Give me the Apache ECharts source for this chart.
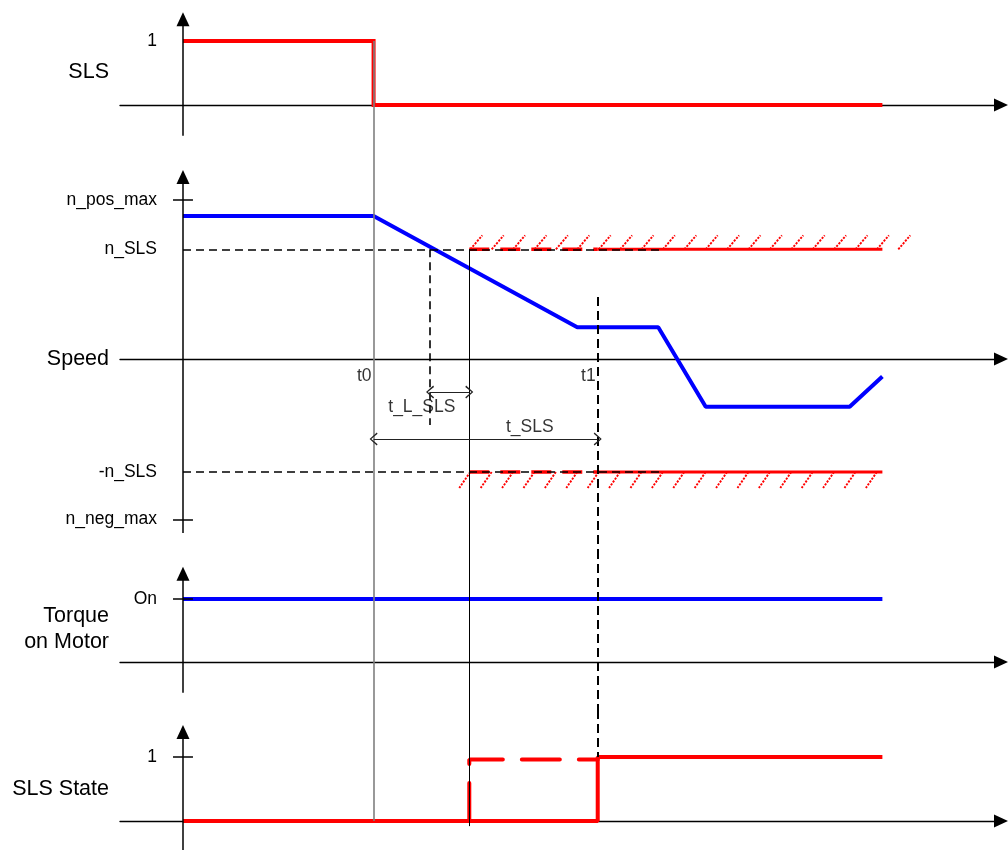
<!DOCTYPE html>
<html>
<head>
<meta charset="utf-8">
<script src="https://cdn.jsdelivr.net/npm/echarts@6/dist/echarts.min.js"></script>
<style>
html,body{margin:0;padding:0;background:#fff;}
#chart{width:1008px;height:850px;}
</style>
</head>
<body>
<div id="chart"></div>
<script>
// ---------------- data ----------------
// time axis (arbitrary units, y-axis at t = 0)
const T_MIN = -7.7, T_MAX = 100;
const tZero = 0, t0 = 23.3, tCross = 30.2, tL = 35.0, t1 = 50.7, tEnd = 85.5;

// SLS input signal
const slsTime = [0, 23.3, 23.3, 85.5];
const slsVal  = [1, 1, 0, 0];

// Speed
const speedTime = [0, 23.3, 48.2, 58.1, 63.9, 81.5, 85.5];
const speedVal  = [90, 90, 20, 20, -30, -30, -11];
const speedTickVals  = [100, 69, -71, -101];
const speedTickNames = ['n_pos_max', 'n_SLS', '-n_SLS', 'n_neg_max'];
const nSLS = 69, nSLSneg = -71;
const limitDashTime  = [35.0, 50.7];
const limitSolidTime = [50.7, 85.5];
const refDashTime    = [0, 58.7];
const hatchUpper = [35.0, 88.0];
const hatchLower = [35.0, 85.5];

// Torque on motor
const torqueTime = [0, 85.5];
const torqueVal  = [1, 1];

// SLS state
const stateTime = [0, 50.7, 50.7, 85.5];
const stateVal  = [0, 0, 1, 1];
const stateDashTime = [35.0, 35.0, 50.7];
const stateDashVal  = [0, 0.96, 0.96];

// annotations in speed panel
const annText  = ['t0', 't1', 't_L_SLS', 't_SLS'];
const annTime  = [23.3, 50.7, 29.2, 42.4];
const annSpeed = [-10.7, -10.7, -30.2, -42.8];
const tLArrowSpeed = -20.8, tSLSArrowSpeed = -50.3;
const crossDashBottom = -41.5, t1DashTop = 39;

// panel names
const panelNames = ['SLS', 'Speed', 'Torque\non Motor', 'SLS State'];

// ---------------- layout ----------------
const FONT = "'Liberation Sans', Arial, Helvetica, sans-serif";
const panels = [
  {top: 0,   height: 153, min: -0.75,  max: 1.64,  axLo: -0.48, axHi: 1.34, ticks: [1], names: ['1'], tickMarks: []},
  {top: 153, height: 397, min: -120.1, max: 129.6, axLo: -109.4, axHi: 114.5, ticks: speedTickVals, names: speedTickNames, tickMarks: [100, -101]},
  {top: 550, height: 160, min: -0.762, max: 1.778, axLo: -0.49, axHi: 1.40, ticks: [1], names: ['On'], tickMarks: [1]},
  {top: 710, height: 140, min: -0.453, max: 1.734, axLo: -0.453, axHi: 1.39, ticks: [1], names: ['1'], tickMarks: [1]}
];
const nameY = [72, 359, 629, 789];

const zip = (a, b) => a.map((v, i) => [v, b[i]]);
const seg = (x1, y1, x2, y2) => [{coord: [x1, y1]}, {coord: [x2, y2]}];

const grids = [], xAxes = [], yAxes = [], series = [];
panels.forEach((p, i) => {
  grids.push({left: 120, right: 7, top: p.top, height: p.height, containLabel: false});
  xAxes.push({
    gridIndex: i, type: 'value', min: T_MIN, max: T_MAX,
    axisLine: {show: true, onZero: true, symbol: ['none', 'triangle'], symbolSize: [13, 14],
      lineStyle: {color: '#000', width: 1.4}},
    axisTick: {show: false}, axisLabel: {show: false}, splitLine: {show: false}
  });
  yAxes.push({
    gridIndex: i, type: 'value', min: p.min, max: p.max, offset: -63,
    axisLine: {show: false, onZero: false}, axisTick: {show: false}, splitLine: {show: false},
    axisLabel: {show: true, customValues: p.ticks, margin: 26, fontSize: 17.5, color: '#000', fontFamily: FONT,
      formatter: v => { const k = p.ticks.indexOf(v); return k >= 0 ? p.names[k] : ''; }}
  });
  // y axis line with arrow + tick marks
  const axisData = [[{coord: [0, p.axLo], symbol: 'none'}, {coord: [0, p.axHi], symbol: 'triangle', symbolSize: [13, 14]}]];
  p.tickMarks.forEach(v => axisData.push([{coord: [-1.22, v], symbol: 'none'}, {coord: [1.22, v], symbol: 'none'}]));
  series.push({
    type: 'line', xAxisIndex: i, yAxisIndex: i, data: [], silent: true, z: 2,
    markLine: {silent: true, animation: false, symbol: 'none', label: {show: false},
      lineStyle: {color: '#000', width: 1.5, type: 'solid'}, emphasis: {disabled: true}, data: axisData}
  });
});

// vertical guide lines
const gray = {color: '#7f7f7f', width: 1.6, type: 'solid'};
const thin = {color: '#000', width: 1, type: 'solid'};
const dashV = {color: '#000', width: 2, type: [9, 5]};
const dashV2 = {color: '#000', width: 1.6, type: [8, 5]};
const guides = [
  [ {d: seg(t0, 1, t0, panels[0].min), s: gray} ],
  [ {d: seg(t0, panels[1].max, t0, panels[1].min), s: gray},
    {d: seg(tL, nSLS, tL, panels[1].min), s: thin},
    {d: seg(tCross, nSLS, tCross, crossDashBottom), s: dashV2},
    {d: seg(t1, t1DashTop, t1, panels[1].min), s: dashV},
    {d: seg(refDashTime[0], nSLS, refDashTime[1], nSLS), s: {color: '#000', width: 1.5, type: [8, 5]}},
    {d: seg(refDashTime[0], nSLSneg, refDashTime[1], nSLSneg), s: {color: '#000', width: 1.5, type: [8, 5]}} ],
  [ {d: seg(t0, panels[2].max, t0, panels[2].min), s: gray},
    {d: seg(tL, panels[2].max, tL, panels[2].min), s: thin},
    {d: seg(t1, panels[2].max, t1, panels[2].min), s: dashV} ],
  [ {d: seg(t0, panels[3].max, t0, 0), s: gray},
    {d: seg(tL, panels[3].max, tL, -0.08), s: thin},
    {d: seg(t1, panels[3].max, t1, 1), s: dashV} ]
];
guides.forEach((g, i) => {
  series.push({
    type: 'line', xAxisIndex: i, yAxisIndex: i, data: [], silent: true, z: 1,
    markLine: {silent: true, animation: false, symbol: 'none', label: {show: false}, emphasis: {disabled: true},
      data: g.map(o => [Object.assign({lineStyle: o.s}, o.d[0]), Object.assign({}, o.d[1])])}
  });
});

// dimension arrows
const openArrow = 'path://M5,0 L10,9 L9,10 L5,2.2 L1,10 L0,9 Z';
series.push({
  type: 'line', xAxisIndex: 1, yAxisIndex: 1, data: [], silent: true, z: 2,
  markLine: {silent: true, animation: false, symbol: [openArrow, openArrow], symbolSize: [13, 8], label: {show: false},
    emphasis: {disabled: true}, lineStyle: {color: '#222', width: 1, type: 'solid'},
    data: [seg(tCross, tLArrowSpeed, tL, tLArrowSpeed), seg(t0, tSLSArrowSpeed, t1, tSLSArrowSpeed)]}
});

// speed limits (red)
const red = '#ff0000', blue = '#0000ff';
series.push({type: 'line', xAxisIndex: 1, yAxisIndex: 1, z: 3, silent: true, symbol: 'none', animation: false,
  data: zip(limitDashTime, [nSLS, nSLS]), lineStyle: {color: red, width: 3.5, type: [20, 11]}});
series.push({type: 'line', xAxisIndex: 1, yAxisIndex: 1, z: 3, silent: true, symbol: 'none', animation: false,
  data: zip(limitSolidTime, [nSLS, nSLS]), lineStyle: {color: red, width: 3}});
series.push({type: 'line', xAxisIndex: 1, yAxisIndex: 1, z: 3, silent: true, symbol: 'none', animation: false,
  data: zip(limitDashTime, [nSLSneg, nSLSneg]), lineStyle: {color: red, width: 3.5, type: [20, 11]}});
series.push({type: 'line', xAxisIndex: 1, yAxisIndex: 1, z: 3, silent: true, symbol: 'none', animation: false,
  data: zip(limitSolidTime, [nSLSneg, nSLSneg]), lineStyle: {color: red, width: 3}});

// hatching of the limit bands
series.push({
  type: 'custom', xAxisIndex: 1, yAxisIndex: 1, z: 3, silent: true, animation: false,
  encode: {x: [0, 1], y: 2},
  data: [[hatchUpper[0], hatchUpper[1], nSLS, 1], [hatchLower[0], hatchLower[1], nSLSneg, -1]],
  renderItem: function (params, api) {
    const a = api.coord([api.value(0), api.value(2)]);
    const b = api.coord([api.value(1), api.value(2)]);
    const dir = api.value(3);
    const children = [];
    for (let px = a[0] + 1; px <= b[0]; px += 21.4) {
      const shape = dir > 0 ? {x1: px, y1: a[1], x2: px + 12, y2: a[1] - 14}
                            : {x1: px, y1: a[1], x2: px - 11, y2: a[1] + 16};
      children.push({type: 'line', shape: shape, style: {stroke: red, lineWidth: 1.9, lineDash: [2.2, 1.3]}});
    }
    return {type: 'group', children: children};
  }
});

// signals
series.push({type: 'line', xAxisIndex: 0, yAxisIndex: 0, z: 4, silent: true, symbol: 'none', animation: false,
  data: zip(slsTime, slsVal), lineStyle: {color: red, width: 4, join: 'miter'}});
series.push({type: 'line', xAxisIndex: 1, yAxisIndex: 1, z: 4, silent: true, symbol: 'none', animation: false,
  data: zip(speedTime, speedVal), lineStyle: {color: blue, width: 4}});
series.push({type: 'line', xAxisIndex: 2, yAxisIndex: 2, z: 4, silent: true, symbol: 'none', animation: false,
  data: zip(torqueTime, torqueVal), lineStyle: {color: blue, width: 4}});
series.push({type: 'line', xAxisIndex: 3, yAxisIndex: 3, z: 4, silent: true, symbol: 'none', animation: false,
  data: zip(stateDashTime, stateDashVal), lineStyle: {color: red, width: 4, type: [38, 19], cap: 'round'}});
series.push({type: 'line', xAxisIndex: 3, yAxisIndex: 3, z: 4, silent: true, symbol: 'none', animation: false,
  data: zip(stateTime, stateVal), lineStyle: {color: red, width: 4}});

// annotation texts
series.push({
  type: 'scatter', xAxisIndex: 1, yAxisIndex: 1, z: 5, silent: true, symbolSize: 0, animation: false,
  data: annText.map((txt, i) => ({
    value: [annTime[i], annSpeed[i]],
    label: {show: true, formatter: txt, position: i < 2 ? 'left' : 'inside', distance: 2,
      fontSize: 17.5, color: '#000', fontFamily: FONT}
  }))
});

const graphic = panelNames.map((n, i) => ({
  type: 'text', x: 109, y: nameY[i], silent: true,
  style: {text: n, align: 'right', verticalAlign: 'middle', fontSize: 21.5, lineHeight: 26,
    fontFamily: FONT, fill: '#000'}
}));

const chart = echarts.init(document.getElementById('chart'), null, {renderer: 'canvas'});
chart.setOption({
  animation: false,
  backgroundColor: '#fff',
  grid: grids, xAxis: xAxes, yAxis: yAxes, series: series, graphic: graphic
});
</script>
</body>
</html>
